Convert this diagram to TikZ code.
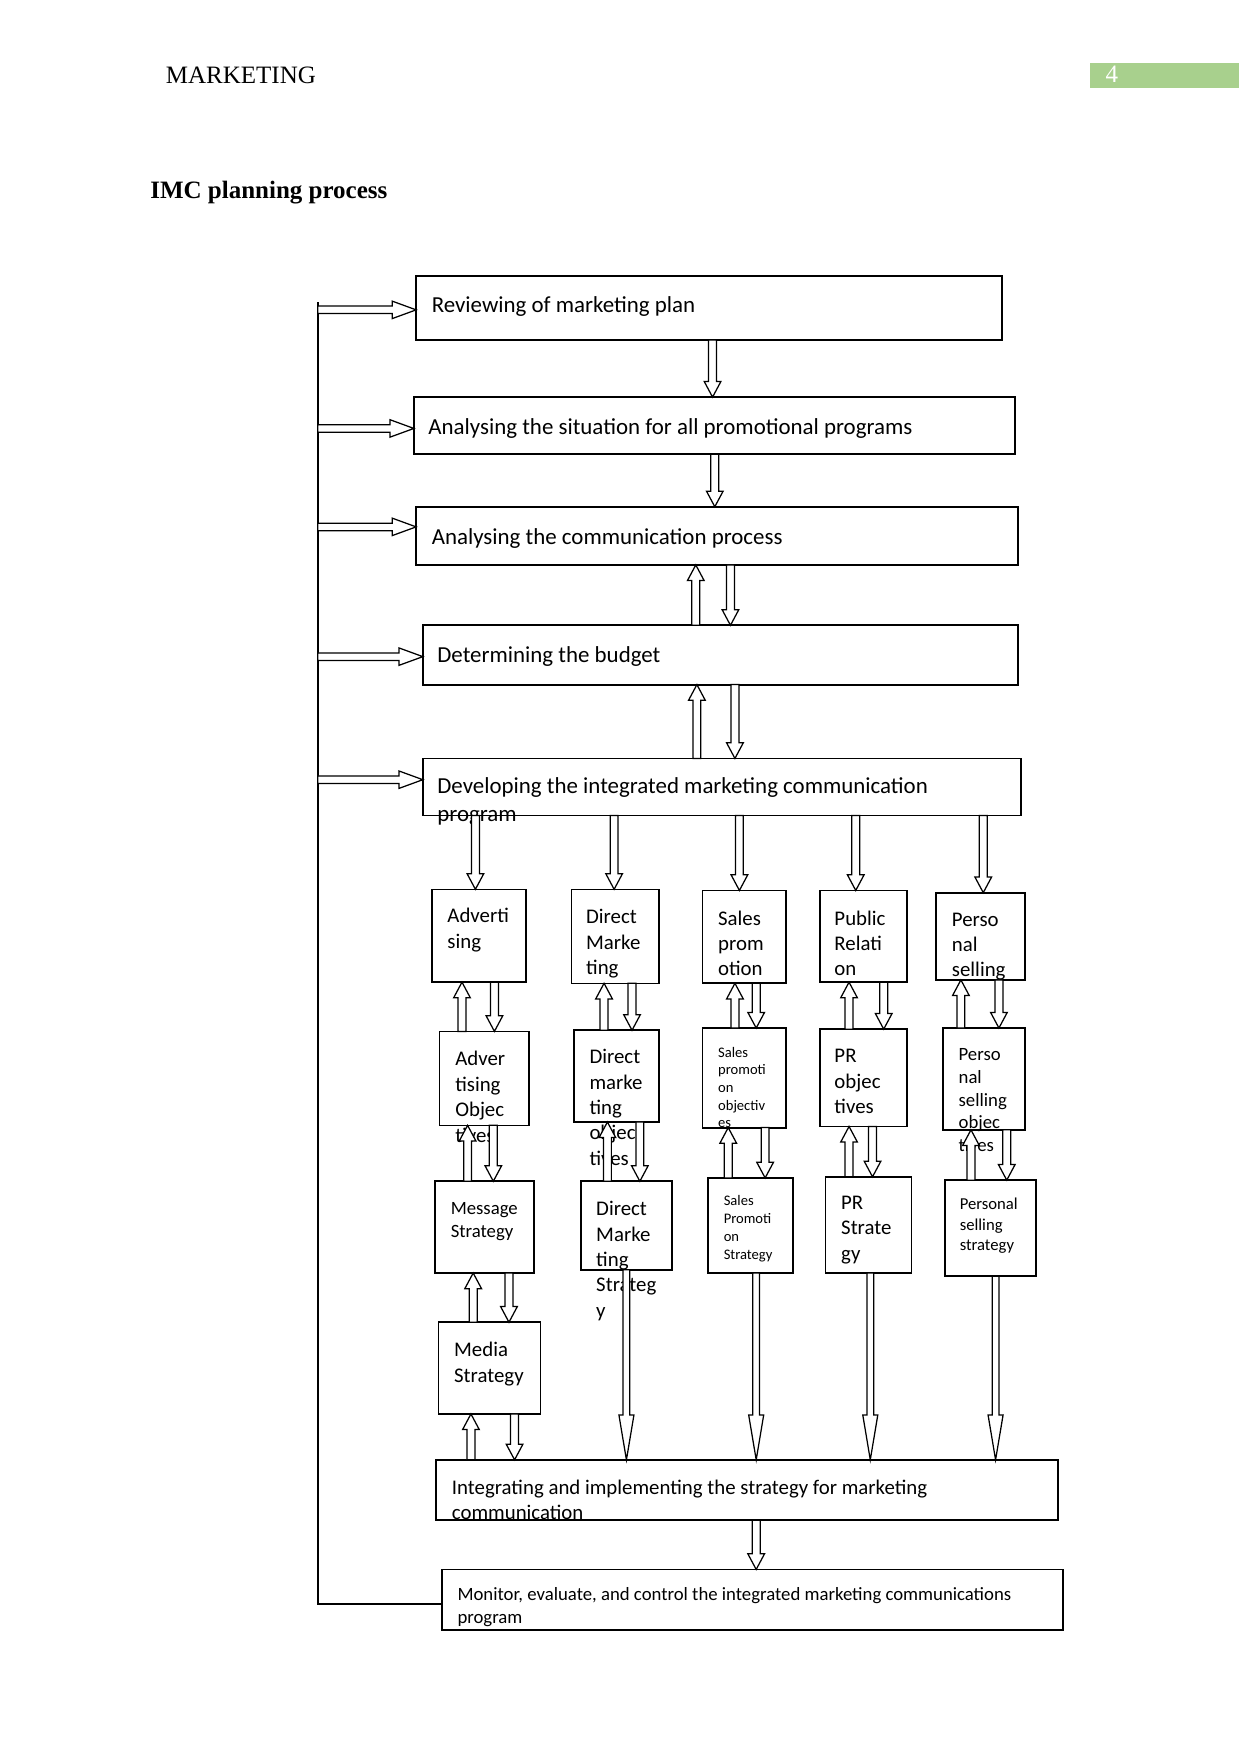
\documentclass[tikz,border=0pt]{standalone}
\usepackage{fontspec}
\setmainfont{Carlito}
\newfontfamily\timesfont{Liberation Serif}
\usetikzlibrary{calc,fit}
\definecolor{hdrgreen}{RGB}{168,208,141}
\newcommand\arrdn[5]{\draw[blk] let \p1=(#4),\p2=(#5) in (\x1-#1,\y1) -- (\x1-#1,\y2+#3) -- (\x1-#2,\y2+#3) -- (\x1,\y2) -- (\x1+#2,\y2+#3) -- (\x1+#1,\y2+#3) -- (\x1+#1,\y1) -- cycle;}
\newcommand\arrup[5]{\draw[blk] let \p1=(#4),\p2=(#5) in (\x1-#1,\y1) -- (\x1-#1,\y2-#3) -- (\x1-#2,\y2-#3) -- (\x1,\y2) -- (\x1+#2,\y2-#3) -- (\x1+#1,\y2-#3) -- (\x1+#1,\y1) -- cycle;}
\newcommand\arrrt[5]{\draw[blk] let \p1=(#4),\p2=(#5) in (\x1,\y1-#1) -- (\x2-#3,\y1-#1) -- (\x2-#3,\y1-#2) -- (\x2,\y1) -- (\x2-#3,\y1+#2) -- (\x2-#3,\y1+#1) -- (\x1,\y1+#1) -- cycle;}
\newcommand\adn[2]{\arrdn{1.9pt}{4pt}{7.5pt}{#1}{#2}}
\newcommand\aup[2]{\arrup{1.9pt}{4pt}{7.5pt}{#1}{#2}}
\newcommand\alongdn[2]{\arrdn{1.6pt}{3.6pt}{21.5pt}{#1}{#2}}
\newcommand\art[2]{\arrrt{1.8pt}{4.2pt}{11.5pt}{#1}{#2}}
\begin{document}
\begin{tikzpicture}[x=0.5371pt,y=-0.5371pt,
 box/.style={draw, line width=0.9pt, inner sep=0pt, outer sep=0pt},
 sbox/.style={draw, line width=0.75pt, inner sep=0pt, outer sep=0pt},
 txt/.style={anchor=north west, inner sep=0pt, outer sep=0pt, align=left, execute at begin node=\strut},
 fA/.style={font=\fontsize{11}{13.4}\selectfont},
 fB/.style={font=\fontsize{10}{12.2}\selectfont},
 fC/.style={font=\fontsize{9}{11}\selectfont},
 fD/.style={font=\fontsize{8}{9.8}\selectfont},
 fE/.style={font=\fontsize{7}{8.5}\selectfont},
 blk/.style={draw, line width=0.6pt, fill=white},
 fbline/.style={draw, line width=0.8pt},
 serif/.style={anchor=base west, inner sep=0pt, font=\timesfont\fontsize{12}{14}\selectfont}]
\useasboundingbox (0,0) rectangle (1109,1568);
% header
\node[fill=hdrgreen, inner sep=0pt, outer sep=0pt, fit={(974,56)(1108,79)}] (pgbox) {};
\node[serif, text=white] (pg) at (988,74) {4};
\node[serif] (hdr) at (148,74.5) {MARKETING};
\node[serif, font=\timesfont\bfseries\fontsize{12}{14}\selectfont] (title) at (134,177) {IMC planning process};
% main boxes
\node[box, fit={(372,247)(896,304)}] (B1) {};
\node[box, fit={(370,355)(907,406)}] (B2) {};
\node[box, fit={(372,453)(910,505)}] (B3) {};
\node[box, fit={(378,559)(910,612)}] (B4) {};
\node[box, fit={(378,678)(913,729)}] (B5) {};
\node[txt, fA] (t1) at (386,262) {Reviewing of marketing plan};
\node[txt, fA] (t2) at (383,371) {Analysing the situation for all promotional programs};
\node[txt, fA] (t3) at (386,469) {Analysing the communication process};
\node[txt, fA] (t4) at (391,575) {Determining the budget};
\node[txt, fA] (t5) at (391,695) {Developing the integrated marketing communication\\program};
% row 2
\node[sbox, fit={(386,795)(470,878)}] (A1) {};
\node[sbox, fit={(511,795)(589,879)}] (D1) {};
\node[box, fit={(628,796)(703,879)}] (S1) {};
\node[box, fit={(733,796)(811,878)}] (P1) {};
\node[box, fit={(837,798)(916,876)}] (Q1) {};
\node[txt, fB] (ta1) at (400,812) {Adverti\\sing};
\node[txt, fB] (td1) at (524,813) {Direct\\Marke\\ting};
\node[txt, fB] (ts1) at (642,814) {Sales\\prom\\otion};
\node[txt, fB] (tp1) at (746,814) {Public\\Relati\\on};
\node[txt, fB] (tq1) at (851,816) {Perso\\nal\\selling};
% row 3
\node[sbox, fit={(393,922)(473,1006)}] (A2) {};
\node[sbox, fit={(513,921)(589,1003)}] (D2) {};
\node[box, fit={(628,919)(703,1008)}] (S2) {};
\node[box, fit={(733,920)(811,1007)}] (P2) {};
\node[box, fit={(843,919)(916,1010)}] (Q2) {};
\node[txt, fB] (ta2) at (407,940) {Adver\\tising\\Objec\\tives};
\node[txt, fB] (td2) at (527,938) {Direct\\marke\\ting\\objec\\tives};
\node[txt, fE] (ts2) at (642,936) {Sales\\promoti\\on\\objectiv\\es};
\node[txt, fB] (tp2) at (746,938) {PR\\objec\\tives};
\node[txt, fC] (tq2) at (857,937) {Perso\\nal\\selling\\objec\\tives};
% row 4
\node[box, fit={(389,1056)(477,1138)}] (A3) {};
\node[box, fit={(519,1056)(601,1135)}] (D3) {};
\node[sbox, fit={(633,1053)(709,1138)}] (S3) {};
\node[sbox, fit={(738,1052)(815,1138)}] (P3) {};
\node[box, fit={(845,1055)(926,1141)}] (Q3) {};
\node[txt, fC] (ta3) at (403,1075) {Message\\Strategy};
\node[txt, fB] (td3) at (533,1074) {Direct\\Marke\\ting\\Strateg\\y};
\node[txt, fE] (ts3) at (647,1069) {Sales\\Promoti\\on\\Strategy};
\node[txt, fB] (tp3) at (752,1069) {PR\\Strate\\gy};
\node[txt, fD] (tq3) at (858,1071) {Personal\\selling\\strategy};
% media
\node[sbox, fit={(392,1182)(483,1264)}] (A4) {};
\node[txt, fB] (ta4) at (406,1200) {Media\\Strategy};
% bottom boxes
\node[box, fit={(390,1305)(946,1359)}] (I) {};
\node[txt, fB] (ti) at (404,1323) {Integrating and implementing the strategy for marketing\\communication};
\node[box, fit={(395,1403)(950,1457)}] (M) {};
\node[txt, fC] (tm) at (409,1419) {Monitor, evaluate, and control the integrated marketing communications\\program};
% feedback loop
\coordinate (fbtop) at (284,270);
\coordinate (fbbot) at (284,1434);
\draw[fbline] (fbtop) -- (fbbot) -- (M.west |- fbbot);
\art{fbtop |- 0,277}{B1.west |- 0,277}
\art{fbtop |- 0,383}{B2.west |- 0,383}
\art{fbtop |- 0,471}{B3.west |- 0,471}
\art{fbtop |- 0,587}{B4.west |- 0,587}
\art{fbtop |- 0,697}{B5.west |- 0,697}
% top flow
\adn{637,0 |- B1.south}{637,0 |- B2.north}
\adn{639,0 |- B2.south}{639,0 |- B3.north}
\aup{622,0 |- B4.north}{622,0 |- B3.south}
\adn{653,0 |- B3.south}{653,0 |- B4.north}
\aup{623,0 |- B5.north}{623,0 |- B4.south}
\adn{657,0 |- B4.south}{657,0 |- B5.north}
% to row 2
\adn{425,0 |- B5.south}{425,0 |- A1.north}
\adn{549,0 |- B5.south}{549,0 |- D1.north}
\adn{661,0 |- B5.south}{661,0 |- S1.north}
\adn{765,0 |- B5.south}{765,0 |- P1.north}
\adn{879,0 |- B5.south}{879,0 |- Q1.north}
% row 2 <-> row 3
\aup{413,0 |- A2.north}{413,0 |- A1.south}
\adn{442,0 |- A1.south}{442,0 |- A2.north}
\aup{540,0 |- D2.north}{540,0 |- D1.south}
\adn{565,0 |- D1.south}{565,0 |- D2.north}
\aup{657,0 |- S2.north}{657,0 |- S1.south}
\adn{676,0 |- S1.south}{676,0 |- S2.north}
\aup{759,0 |- P2.north}{759,0 |- P1.south}
\adn{790,0 |- P1.south}{790,0 |- P2.north}
\aup{859,0 |- Q2.north}{859,0 |- Q1.south}
\adn{893,0 |- Q1.south}{893,0 |- Q2.north}
% row 3 <-> row 4
\aup{418,0 |- A3.north}{418,0 |- A2.south}
\adn{441,0 |- A2.south}{441,0 |- A3.north}
\aup{543,0 |- D3.north}{543,0 |- D2.south}
\adn{572,0 |- D2.south}{572,0 |- D3.north}
\aup{651,0 |- S3.north}{651,0 |- S2.south}
\adn{684,0 |- S2.south}{684,0 |- S3.north}
\aup{759,0 |- P3.north}{759,0 |- P2.south}
\adn{780,0 |- P2.south}{780,0 |- P3.north}
\aup{868,0 |- Q3.north}{868,0 |- Q2.south}
\adn{900,0 |- Q2.south}{900,0 |- Q3.north}
% message <-> media <-> integrating
\aup{423,0 |- A4.north}{423,0 |- A3.south}
\adn{455,0 |- A3.south}{455,0 |- A4.north}
\aup{421,0 |- I.north}{421,0 |- A4.south}
\adn{460,0 |- A4.south}{460,0 |- I.north}
% long arrows
\alongdn{560,0 |- D3.south}{560,0 |- I.north}
\alongdn{676,0 |- S3.south}{676,0 |- I.north}
\alongdn{778,0 |- P3.south}{778,0 |- I.north}
\alongdn{890,0 |- Q3.south}{890,0 |- I.north}
% to monitor
\adn{676,0 |- I.south}{676,0 |- M.north}
\end{tikzpicture}
\end{document}
